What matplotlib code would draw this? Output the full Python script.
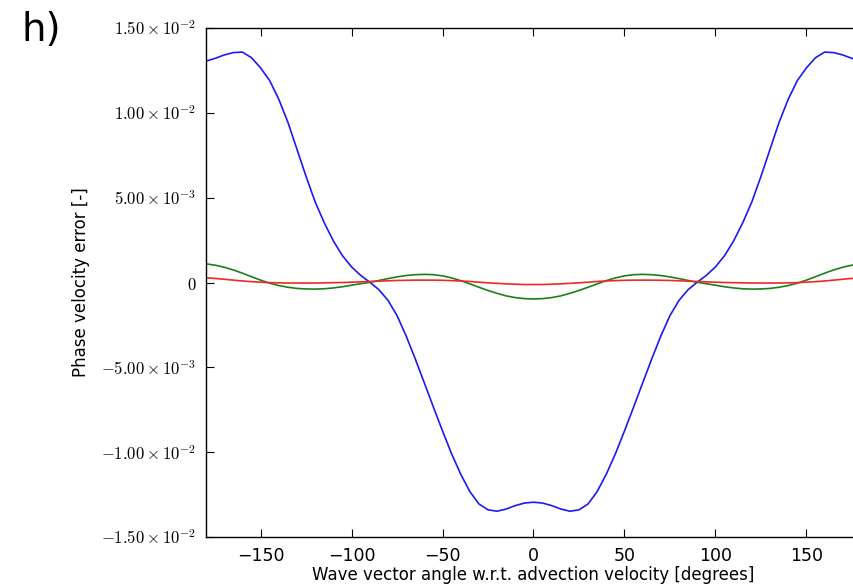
"""
erreur de vitesse de phase en fonction de l'angle du vecteur d'onde
"""

import matplotlib
matplotlib.use("Agg")
import matplotlib.pyplot as plt

plt.rcParams["mathtext.fontset"] = "cm"

# angle du vecteur d'onde par rapport à la vitesse d'advection [degrés]
angles = [-180, -175, -170, -165, -160, -155, -150, -145, -140, -135,
          -130, -125, -120, -115, -110, -105, -100, -95, -90, -85,
          -80, -75, -70, -65, -60, -55, -50, -45, -40, -35,
          -30, -25, -20, -15, -10, -5, 0, 5, 10, 15,
          20, 25, 30, 35, 40, 45, 50, 55, 60, 65,
          70, 75, 80, 85, 90, 95, 100, 105, 110, 115,
          120, 125, 130, 135, 140, 145, 150, 155, 160, 165,
          170, 175, 180]

err_bleu = [0.01305, 0.01321, 0.01341, 0.01355, 0.01358, 0.01325, 0.01265, 0.01190, 0.01080, 0.00945,
            0.00785, 0.00625, 0.00475, 0.00352, 0.00245, 0.00158, 0.00092, 0.00042, 0.00002, -0.00042,
            -0.00105, -0.00195, -0.00315, -0.00450, -0.00592, -0.00735, -0.00875, -0.01010, -0.01130, -0.01232,
            -0.01305, -0.01340, -0.01348, -0.01335, -0.01315, -0.01300, -0.01295, -0.01300, -0.01315, -0.01335,
            -0.01348, -0.01340, -0.01305, -0.01232, -0.01130, -0.01010, -0.00875, -0.00735, -0.00592, -0.00450,
            -0.00315, -0.00195, -0.00105, -0.00042, 0.00002, 0.00042, 0.00092, 0.00158, 0.00245, 0.00352,
            0.00475, 0.00625, 0.00785, 0.00945, 0.01080, 0.01190, 0.01265, 0.01325, 0.01358, 0.01355,
            0.01341, 0.01321, 0.01305]

err_vert = [0.00110, 0.00102, 0.00090, 0.00074, 0.00055, 0.00034, 0.00014, -0.00004, -0.00018, -0.00028,
            -0.00035, -0.00038, -0.00039, -0.00037, -0.00032, -0.00025, -0.00016, -0.00007, 0.00001, 0.00012,
            0.00023, 0.00033, 0.00041, 0.00046, 0.00048, 0.00046, 0.00039, 0.00027, 0.00011, -0.00008,
            -0.00028, -0.00047, -0.00064, -0.00079, -0.00089, -0.00095, -0.00097, -0.00095, -0.00089, -0.00079,
            -0.00064, -0.00047, -0.00028, -0.00008, 0.00011, 0.00027, 0.00039, 0.00046, 0.00048, 0.00046,
            0.00041, 0.00033, 0.00023, 0.00012, 0.00001, -0.00007, -0.00016, -0.00025, -0.00032, -0.00037,
            -0.00039, -0.00038, -0.00035, -0.00028, -0.00018, -0.00004, 0.00014, 0.00034, 0.00055, 0.00074,
            0.00090, 0.00102, 0.00110]

err_rouge = [0.00028, 0.00024, 0.00019, 0.00014, 0.00009, 0.00005, 0.00002, -0.00001, -0.00002, -0.00003,
             -0.00003, -0.00003, -0.00003, -0.00002, -0.00001, 0.00000, 0.00002, 0.00004, 0.00006, 0.00008,
             0.00010, 0.00012, 0.00013, 0.00014, 0.00014, 0.00014, 0.00013, 0.00011, 0.00009, 0.00006,
             0.00002, -0.00002, -0.00005, -0.00008, -0.00010, -0.00012, -0.00012, -0.00012, -0.00010, -0.00008,
             -0.00005, -0.00002, 0.00002, 0.00006, 0.00009, 0.00011, 0.00013, 0.00014, 0.00014, 0.00014,
             0.00013, 0.00012, 0.00010, 0.00008, 0.00006, 0.00004, 0.00002, 0.00000, -0.00001, -0.00002,
             -0.00003, -0.00003, -0.00003, -0.00003, -0.00002, -0.00001, 0.00002, 0.00005, 0.00009, 0.00014,
             0.00019, 0.00024, 0.00028]

xticks = [-150, -100, -50, 0, 50, 100, 150]
yticks = [-0.015, -0.010, -0.005, 0.0, 0.005, 0.010, 0.015]
ylabels = [r"$-1.50\times10^{-2}$", r"$-1.00\times10^{-2}$", r"$-5.00\times10^{-3}$", r"$0$",
           r"$5.00\times10^{-3}$", r"$1.00\times10^{-2}$", r"$1.50\times10^{-2}$"]

fig = plt.figure(figsize=(8.54, 5.85), dpi=100)
ax = fig.add_axes([206 / 854, 48 / 585, 655 / 854, 509 / 585])

ax.plot(angles, err_bleu, color=(0.1, 0.1, 0.95), lw=1.2)
ax.plot(angles, err_vert, color=(0.1, 0.5, 0.1), lw=1.2)
ax.plot(angles, err_rouge, color=(0.95, 0.15, 0.15), lw=1.2)

ax.set_xlim(-180, 180)
ax.set_ylim(-0.015, 0.015)
ax.set_xticks(xticks)
ax.set_yticks(yticks)
ax.set_yticklabels(ylabels)
ax.tick_params(direction="in", length=6, width=0.8, top=True, right=True, pad=7)
ax.tick_params(axis="x", labelsize=12.5)
ax.tick_params(axis="y", labelsize=12)
for s in ax.spines.values():
    s.set_linewidth(1.0)

ax.set_xlabel("Wave vector angle w.r.t. advection velocity [degrees]", fontsize=12, labelpad=1)
ax.set_ylabel("Phase velocity error [-]", fontsize=12, labelpad=8)

fig.text(22 / 854, 1 - 30 / 585, "h)", fontsize=28, ha="left", va="center")

fig.savefig("out.png", dpi=100)
